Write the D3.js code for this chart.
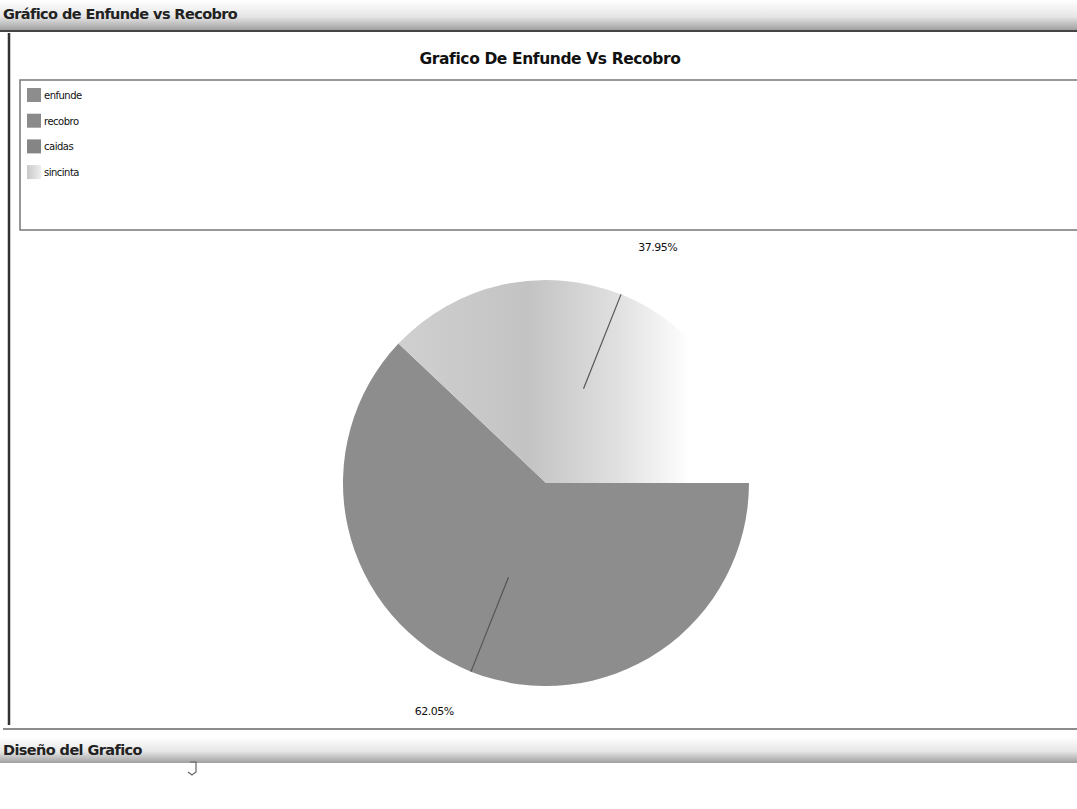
<!DOCTYPE html>
<html lang="es">
<head>
<meta charset="utf-8">
<script src="https://cdn.jsdelivr.net/npm/d3@7"></script>
<style>
  body { margin: 0; background: #fff; overflow: hidden; }
  text { font-family: "DejaVu Sans", Verdana, sans-serif; }
</style>
</head>
<body>
<div id="my_dataviz"></div>
<script>
// datos del grafico
const series = ["enfunde", "recobro", "caidas", "sincinta"];
const values = [62.05, 0, 0, 37.95];
const labels = ["62.05%", "", "", "37.95%"];
const colors = ["#8d8d8d", "#8a8a8a", "#858585", "url(#gradLight)"];

const width = 1077, height = 809;

const svg = d3.select("#my_dataviz")
    .append("svg")
    .attr("width", width)
    .attr("height", height);

const defs = svg.append("defs");

// pastel: centro y radio
const cx = 546, cy = 483, r = 203;

// barra de cabecera
const hdr = defs.append("linearGradient").attr("id", "gradHeader")
    .attr("x1", 0).attr("y1", 0).attr("x2", 0).attr("y2", 1);
hdr.append("stop").attr("offset", "0%").attr("stop-color", "#ffffff");
hdr.append("stop").attr("offset", "55%").attr("stop-color", "#e6e6e6");
hdr.append("stop").attr("offset", "100%").attr("stop-color", "#a0a0a0");

// degradado de la porcion clara (coordenadas relativas al centro)
const light = defs.append("linearGradient").attr("id", "gradLight")
    .attr("gradientUnits", "userSpaceOnUse")
    .attr("x1", -150).attr("y1", 0).attr("x2", 145).attr("y2", 0);
light.append("stop").attr("offset", "0%").attr("stop-color", "#d0d0d0");
light.append("stop").attr("offset", "45%").attr("stop-color", "#c3c3c3");
light.append("stop").attr("offset", "75%").attr("stop-color", "#e0e0e0");
light.append("stop").attr("offset", "100%").attr("stop-color", "#ffffff");

const lgLight = defs.append("linearGradient").attr("id", "gradLegend")
    .attr("x1", 0).attr("y1", 0).attr("x2", 1).attr("y2", 0);
lgLight.append("stop").attr("offset", "0%").attr("stop-color", "#c8c8c8");
lgLight.append("stop").attr("offset", "100%").attr("stop-color", "#eeeeee");

// cabecera superior
svg.append("rect").attr("x", 0).attr("y", 0).attr("width", width).attr("height", 30)
    .attr("fill", "url(#gradHeader)");
svg.append("line").attr("x1", 0).attr("x2", width).attr("y1", 31).attr("y2", 31)
    .attr("stroke", "#444").attr("stroke-width", 2);
svg.append("text").attr("x", 3).attr("y", 19)
    .style("font-size", "14.5px").style("font-weight", "bold").style("letter-spacing", "-0.6px")
    .attr("fill", "#222").text("Gráfico de Enfunde vs Recobro");

// borde izquierdo
svg.append("line").attr("x1", 9).attr("x2", 9).attr("y1", 33).attr("y2", 725)
    .attr("stroke", "#333").attr("stroke-width", 2.5);

// titulo
svg.append("text").attr("x", 550).attr("y", 64).attr("text-anchor", "middle")
    .style("font-size", "15.5px").style("font-weight", "bold").style("letter-spacing", "-0.4px")
    .attr("fill", "#111").text("Grafico De Enfunde Vs Recobro");

// leyenda
svg.append("rect").attr("x", 20).attr("y", 80).attr("width", 1062).attr("height", 150)
    .attr("fill", "none").attr("stroke", "#777").attr("stroke-width", 1.5);

const legend = svg.selectAll(".legend")
    .data(series)
    .enter()
    .append("g")
    .attr("transform", (d, i) => `translate(27, ${88 + i * 25.7})`);

legend.append("rect").attr("width", 14).attr("height", 14)
    .attr("fill", (d, i) => i === 3 ? "url(#gradLegend)" : colors[i]);
legend.append("text").attr("x", 17).attr("y", 11)
    .style("font-size", "10px").style("letter-spacing", "-0.5px")
    .attr("fill", "#111").text(d => d);

// pastel
const pie = d3.pie().sort(null).value(d => d)
    .startAngle(Math.PI / 2).endAngle(Math.PI / 2 + 2 * Math.PI);
const arcs = pie(values).filter(a => a.value > 0);
const arc = d3.arc().innerRadius(0).outerRadius(r);

const g = svg.append("g").attr("transform", `translate(${cx},${cy})`);

g.selectAll("path")
    .data(arcs)
    .enter()
    .append("path")
    .attr("d", arc)
    .attr("fill", d => colors[d.index]);

// lineas de etiqueta y textos
const inner = d3.arc().innerRadius(r * 0.5).outerRadius(r * 0.5);
const outer = d3.arc().innerRadius(r).outerRadius(r);
const mid = d => (d.startAngle + d.endAngle) / 2;

g.selectAll("line")
    .data(arcs)
    .enter()
    .append("line")
    .attr("x1", d => inner.centroid(d)[0])
    .attr("y1", d => inner.centroid(d)[1])
    .attr("x2", d => outer.centroid(d)[0])
    .attr("y2", d => outer.centroid(d)[1])
    .attr("stroke", "#555").attr("stroke-width", 1.2);

g.selectAll("text")
    .data(arcs)
    .enter()
    .append("text")
    .attr("x", d => Math.sin(mid(d)) * r * 1.23)
    .attr("y", d => -Math.cos(mid(d)) * r * 1.23)
    .attr("text-anchor", d => Math.sin(mid(d)) > 0 ? "start" : "end")
    .style("font-size", "11px").style("letter-spacing", "-0.5px")
    .attr("fill", "#111")
    .text(d => labels[d.index]);

// linea inferior y cabecera de diseno
svg.append("line").attr("x1", 3).attr("x2", width).attr("y1", 729).attr("y2", 729)
    .attr("stroke", "#666").attr("stroke-width", 1.5);
svg.append("rect").attr("x", 0).attr("y", 737).attr("width", width).attr("height", 26)
    .attr("fill", "url(#gradHeader)");
svg.append("text").attr("x", 3).attr("y", 755)
    .style("font-size", "14.5px").style("font-weight", "bold").style("letter-spacing", "-0.6px")
    .attr("fill", "#222").text("Diseño del Grafico");

// icono pequeno
svg.append("path").attr("d", "M190,762 L196,762 L196,772 L192,775 L188,772")
    .attr("fill", "none").attr("stroke", "#666").attr("stroke-width", 1.2);
</script>
</body>
</html>
